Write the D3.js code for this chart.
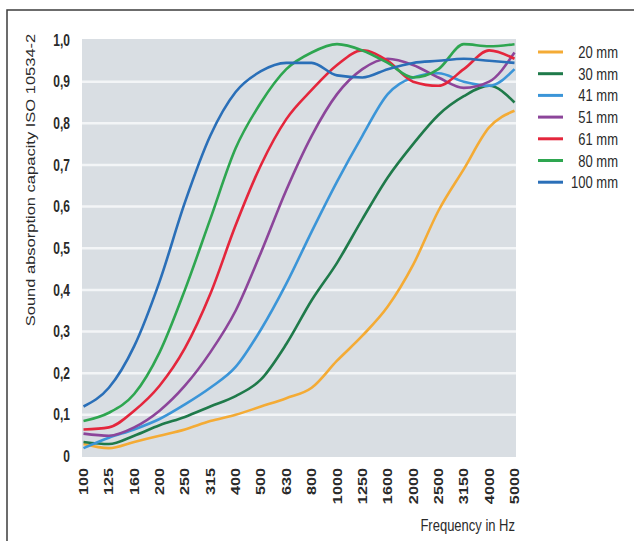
<!DOCTYPE html>
<html>
<head>
<meta charset="utf-8">
<script src="https://cdn.jsdelivr.net/npm/d3@7"></script>
<style>
  body { margin: 0; background: #fff; }
  text { font-family: "Liberation Sans", Arial, sans-serif; fill: #2a2a2a; }
</style>
</head>
<body>
<div id="chart"></div>
<script>
// data
const frequencies = ["100", "125", "160", "200", "250", "315", "400", "500", "630", "800",
  "1000", "1250", "1600", "2000", "2500", "3150", "4000", "5000"];
const yTicks = [0, 0.1, 0.2, 0.3, 0.4, 0.5, 0.6, 0.7, 0.8, 0.9, 1.0];

const seriesNames = ["20 mm", "30 mm", "41 mm", "51 mm", "61 mm", "80 mm", "100 mm"];
const seriesColors = ["#f4ab35", "#1f7a4a", "#3b95d8", "#8c459a", "#e4263c", "#2ea650", "#2a6fb8"];

const mm20  = [0.03, 0.02, 0.035, 0.05, 0.065, 0.085, 0.1, 0.12, 0.14, 0.165, 0.23, 0.29, 0.36, 0.46, 0.59, 0.69, 0.79, 0.83];
const mm30  = [0.035, 0.03, 0.05, 0.075, 0.095, 0.12, 0.145, 0.185, 0.27, 0.375, 0.465, 0.57, 0.67, 0.75, 0.82, 0.865, 0.89, 0.85];
const mm41  = [0.02, 0.045, 0.065, 0.09, 0.125, 0.165, 0.215, 0.305, 0.415, 0.54, 0.66, 0.77, 0.87, 0.91, 0.92, 0.9, 0.89, 0.93];
const mm51  = [0.055, 0.05, 0.07, 0.11, 0.17, 0.25, 0.35, 0.49, 0.64, 0.77, 0.87, 0.93, 0.955, 0.94, 0.91, 0.885, 0.9, 0.97];
const mm61  = [0.065, 0.07, 0.11, 0.17, 0.26, 0.39, 0.555, 0.7, 0.81, 0.88, 0.94, 0.975, 0.95, 0.9, 0.89, 0.93, 0.975, 0.955];
const mm80  = [0.085, 0.105, 0.15, 0.25, 0.4, 0.57, 0.74, 0.85, 0.93, 0.97, 0.99, 0.975, 0.945, 0.91, 0.93, 0.99, 0.985, 0.99];
const mm100 = [0.12, 0.165, 0.265, 0.42, 0.61, 0.77, 0.875, 0.925, 0.945, 0.945, 0.915, 0.91, 0.93, 0.945, 0.95, 0.955, 0.95, 0.945];

const seriesValues = [mm20, mm30, mm41, mm51, mm61, mm80, mm100];

const width = 634;
const height = 541;
// the source picture is stretched vertically, so the text is too
const stretch = 1.3;

const svg = d3.select("#chart")
    .append("svg")
    .attr("width", width)
    .attr("height", height);

// outer frame (runs off the right and bottom edge)
svg.append("rect")
    .attr("x", 7)
    .attr("y", 10)
    .attr("width", 700)
    .attr("height", 600)
    .attr("fill", "none")
    .attr("stroke", "#3c3c3c")
    .attr("stroke-width", 1.5);

const plot = { left: 82, right: 516, top: 39, bottom: 457 };

const x = d3.scalePoint()
    .domain(frequencies)
    .range([83.5, 514.5]);

const y = d3.scaleLinear()
    .domain([0, 1])
    .range([456.5, 40]);

function place(px, py, rotate) {
    return `translate(${px},${py}) scale(1,${stretch})` + (rotate ? " rotate(-90)" : "");
}

// grey background + white grid
svg.append("rect")
    .attr("x", plot.left)
    .attr("y", plot.top)
    .attr("width", plot.right - plot.left)
    .attr("height", plot.bottom - plot.top)
    .attr("fill", "#d9dee3");

svg.append("g")
    .selectAll("line")
    .data(yTicks.filter(v => v > 0 && v < 1))
    .enter().append("line")
    .attr("x1", plot.left)
    .attr("x2", plot.right)
    .attr("y1", d => y(d))
    .attr("y2", d => y(d))
    .attr("stroke", "#f3f5f7")
    .attr("stroke-width", 2.5);

// curves
const line = d3.line()
    .x((d, i) => x(frequencies[i]))
    .y(d => y(d))
    .curve(d3.curveMonotoneX);

svg.append("g")
    .selectAll("path")
    .data(seriesValues)
    .enter().append("path")
    .attr("d", d => line(d))
    .attr("fill", "none")
    .attr("stroke", (d, i) => seriesColors[i])
    .attr("stroke-width", 2.6)
    .attr("stroke-linejoin", "round");

// y tick labels
const fmt = v => v === 0 ? "0" : d3.format(".1f")(v).replace(".", ",");

svg.append("g")
    .selectAll("text")
    .data(yTicks)
    .enter().append("text")
    .attr("transform", d => place(70, y(d), false))
    .attr("dy", "0.36em")
    .attr("text-anchor", "end")
    .style("font-size", "12px")
    .style("font-weight", "bold")
    .text(fmt);

// x tick labels
svg.append("g")
    .selectAll("text")
    .data(frequencies)
    .enter().append("text")
    .attr("transform", d => place(x(d), 468, true))
    .attr("dy", "0.36em")
    .attr("text-anchor", "end")
    .style("font-size", "12.5px")
    .style("font-weight", "bold")
    .text(d => d);

// axis titles
svg.append("text")
    .attr("transform", place(35, 180, true))
    .attr("text-anchor", "middle")
    .style("font-size", "12.7px")
    .text("Sound absorption capacity ISO 10534-2");

svg.append("text")
    .attr("transform", place(515, 525, false))
    .attr("dy", "0.36em")
    .attr("text-anchor", "end")
    .style("font-size", "13px")
    .text("Frequency in Hz");

// legend
const legend = svg.append("g")
    .selectAll("g")
    .data(seriesNames)
    .enter().append("g");

legend.append("line")
    .attr("x1", 538)
    .attr("x2", 563)
    .attr("y1", (d, i) => 52 + i * 21.7)
    .attr("y2", (d, i) => 52 + i * 21.7)
    .attr("stroke", (d, i) => seriesColors[i])
    .attr("stroke-width", 3);

legend.append("text")
    .attr("transform", (d, i) => place(618, 52 + i * 21.7, false))
    .attr("dy", "0.36em")
    .attr("text-anchor", "end")
    .style("font-size", "13px")
    .text(d => d);
</script>
</body>
</html>
